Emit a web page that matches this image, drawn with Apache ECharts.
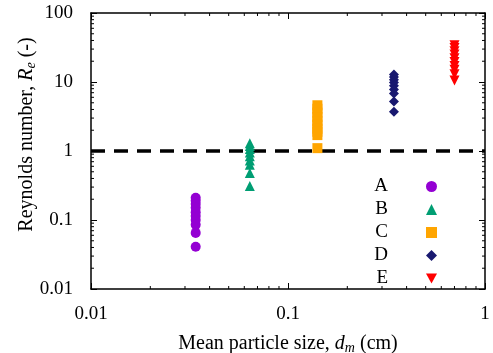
<!DOCTYPE html>
<html>
<head>
<meta charset="utf-8">
<script src="https://cdn.jsdelivr.net/npm/echarts@6/dist/echarts.min.js"></script>
<style>
  html, body { margin: 0; padding: 0; background: #fff; }
  #chart { width: 493px; height: 353px; }
</style>
</head>
<body>
<div id="chart"></div>
<script>
// mean particle size (cm) for each group
const groupNames = ['A', 'B', 'C', 'D', 'E']
const groupSize = [0.034, 0.064, 0.141, 0.345, 0.70]

// Reynolds numbers
const reA = [0.21, 0.19, 0.17, 0.15, 0.13, 0.114, 0.1, 0.085, 0.065, 0.041]
const reB = [1.3, 1.18, 1.07, 0.95, 0.84, 0.73, 0.63, 0.48, 0.31]
const reC = [4.6, 4.1, 3.6, 3.1, 2.7, 2.4, 2.1, 1.9, 1.7, 1.1]
const reD = [12.8, 11.8, 10.8, 9.8, 8.8, 7.8, 6.8, 5.2, 3.7]
const reE = [34, 31, 28, 25, 22, 19.5, 17, 15, 13, 10.5]

const threshold = 1

const xTicks = [0.01, 0.1, 1]
const yTicks = [0.01, 0.1, 1, 10, 100]

const colors = ['#9400d3', '#009e73', '#ffa500', '#191970', '#ff0000']
const symbols = ['circle', 'triangle', 'rect', 'diamond', 'triangle']
const rotations = [0, 0, 0, 0, 180]
const legendIcons = ['circle', 'triangle', 'rect', 'diamond', 'path://M0,0 L10,0 L5,9 Z']

const allRe = [reA, reB, reC, reD, reE]

// minor ticks 2..9 per decade
const minorOf = (ticks) => {
  const out = []
  for (let i = 0; i < ticks.length - 1; i++) {
    for (let k = 2; k <= 9; k++) out.push(+(ticks[i] * k).toPrecision(3))
  }
  return out
}
const xMinor = minorOf(xTicks)
const yMinor = minorOf(yTicks)

const FONT = 'Liberation Serif'
const xMin = xTicks[0], xMax = xTicks[xTicks.length - 1]
const yMin = yTicks[0], yMax = yTicks[yTicks.length - 1]

const chart = echarts.init(document.getElementById('chart'))

const axisCommon = {
  type: 'log',
  logBase: 10,
  nameMoveOverlap: false,
  axisLine: { show: true, onZero: false, lineStyle: { color: '#000', width: 1.5 } },
  axisTick: { show: true, inside: true, length: 6, lineStyle: { color: '#000', width: 1 } },
  splitLine: { show: false },
  minorTick: { show: false }
}

const titleRich = {
  n: { fontFamily: FONT, fontSize: 20, color: '#000' },
  i: { fontFamily: FONT, fontSize: 20, color: '#000', fontStyle: 'italic' },
  s: { fontFamily: FONT, fontSize: 14, color: '#000', fontStyle: 'italic', verticalAlign: 'bottom', padding: [9, 0, 0, 0] }
}

const scatterSeries = groupNames.map((name, i) => ({
  name,
  type: 'scatter',
  symbol: symbols[i],
  symbolRotate: rotations[i],
  symbolSize: 10,
  itemStyle: { color: colors[i], opacity: 1 },
  z: 5,
  data: allRe[i].map(v => [groupSize[i], v])
}))

const minorTickSeries = (values, isX) => ({
  type: 'custom',
  silent: true,
  clip: false,
  z: 3,
  data: values.map(v => (isX ? [v, yMin] : [xMin, v])),
  renderItem: (params, api) => {
    const v = api.value(isX ? 0 : 1)
    const style = { stroke: '#000', lineWidth: 1 }
    if (isX) {
      const b = api.coord([v, yMin])
      const t = api.coord([v, yMax])
      return {
        type: 'group',
        children: [
          { type: 'line', shape: { x1: b[0], y1: b[1], x2: b[0], y2: b[1] - 3 }, style },
          { type: 'line', shape: { x1: t[0], y1: t[1], x2: t[0], y2: t[1] + 3 }, style }
        ]
      }
    }
    const l = api.coord([xMin, v])
    const r = api.coord([xMax, v])
    return {
      type: 'group',
      children: [
        { type: 'line', shape: { x1: l[0], y1: l[1], x2: l[0] + 3, y2: l[1] }, style },
        { type: 'line', shape: { x1: r[0], y1: r[1], x2: r[0] - 3, y2: r[1] }, style }
      ]
    }
  }
})

const option = {
  animation: false,
  backgroundColor: '#fff',
  textStyle: { fontFamily: FONT },
  grid: { left: 91, right: 8, top: 13, bottom: 64, containLabel: false, outerBoundsMode: 'none' },
  legend: {
    data: groupNames.map((name, i) => ({ name, icon: legendIcons[i] })),
    orient: 'vertical',
    align: 'right',
    right: 51,
    top: 172,
    itemGap: 4,
    itemWidth: 11,
    itemHeight: 11,
    textStyle: { fontFamily: FONT, fontSize: 19, color: '#000', padding: [0, 33, 0, 0], lineHeight: 18 }
  },
  xAxis: [
    {
      ...axisCommon,
      min: xMin,
      max: xMax,
      position: 'bottom',
      axisLabel: { color: '#000', fontSize: 19, fontFamily: FONT, margin: 16 },
      name: '{n|Mean particle size, }{i|d}{s|m}{n| (cm)}',
      nameLocation: 'middle',
      nameGap: 43,
      nameTextStyle: { rich: titleRich }
    },
    {
      ...axisCommon,
      min: xMin,
      max: xMax,
      position: 'top',
      axisLabel: { show: false }
    }
  ],
  yAxis: [
    {
      ...axisCommon,
      min: yMin,
      max: yMax,
      position: 'left',
      axisLabel: { color: '#000', fontSize: 19, fontFamily: FONT, margin: 18 },
      name: '{n|Reynolds number, }{i|R}{s|e}{n| (-)}',
      nameLocation: 'middle',
      nameGap: 53,
      nameTextStyle: { padding: [0, 0, 0, 33], rich: titleRich }
    },
    {
      ...axisCommon,
      min: yMin,
      max: yMax,
      position: 'right',
      axisLabel: { show: false }
    }
  ],
  series: [
    {
      type: 'line',
      data: [],
      silent: true,
      z: 1,
      markLine: {
        silent: true,
        symbol: 'none',
        label: { show: false },
        lineStyle: { color: '#000', width: 3.5, type: [14, 9] },
        data: [{ yAxis: threshold }]
      }
    },
    minorTickSeries(xMinor, true),
    minorTickSeries(yMinor, false),
    ...scatterSeries
  ]
}

chart.setOption(option)
</script>
</body>
</html>
